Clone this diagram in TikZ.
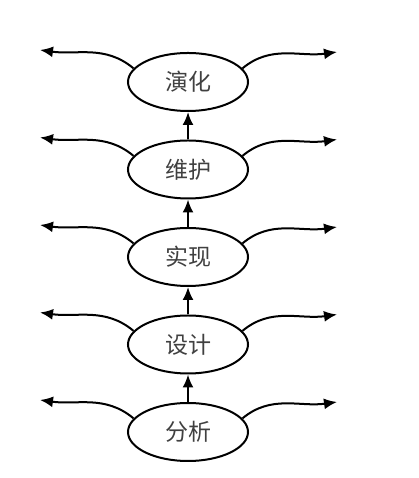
\documentclass[tikz,border=0pt]{standalone}
\usepackage{fontspec}
\newfontfamily\cjk{Noto Sans CJK SC}
\usetikzlibrary{shapes.geometric,arrows.meta}
\tikzset{
  stage/.style={ellipse, draw, line width=2pt, minimum width=120, minimum height=58,
    inner sep=0pt, font=\cjk\fontsize{23}{23}\selectfont, text=black!75},
  flow/.style={line width=2pt, -{Latex[length=13,width=11]}}
}
\begin{document}
\begin{tikzpicture}[x=1pt,y=1pt]
  \useasboundingbox (0,0) rectangle (418,478);
  % stages, bottom to top
  \foreach \nm/\txt [count=\i, evaluate=\i as \yy using 46+(\i-1)*87.5] in
    {fx/分析,sj/设计,sx/实现,wh/维护,yh/演化}
   {
    \node[stage] (\nm) at (188,\yy) {\txt};
    \coordinate (\nm-l) at ([shift={(-148,32)}]\nm.center);
    \coordinate (\nm-r) at ([shift={(149,30)}]\nm.center);
    \draw[flow] (\nm.166) to[out=140,in=-8] (\nm-l);
    \draw[flow] (\nm.14) to[out=40,in=188] (\nm-r);
   }
  % upward arrows
  \foreach \lo/\hi in {fx/sj,sj/sx,sx/wh,wh/yh}
    \draw[flow] (\lo.north) -- (\hi.south);
\end{tikzpicture}
\end{document}
